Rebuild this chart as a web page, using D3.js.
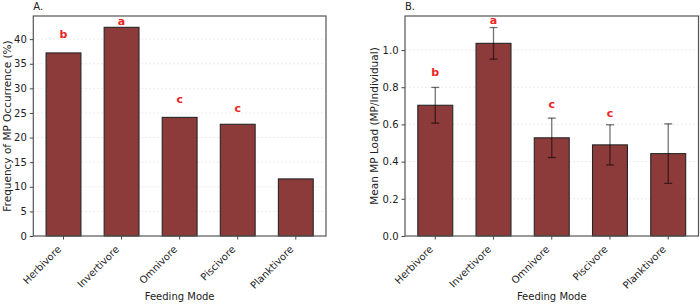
<!DOCTYPE html>
<html>
<head>
<meta charset="utf-8">
<script src="https://cdn.jsdelivr.net/npm/d3@7"></script>
<style>
  body { margin: 0; background: #fff; }
  text { font-family: "DejaVu Sans", sans-serif; fill: #222; }
</style>
</head>
<body>
<div id="chart"></div>
<script>
// data
var feedingModes = ["Herbivore", "Invertivore", "Omnivore", "Piscivore", "Planktivore"];

// panel A: frequency of MP occurrence (%)
var occurrencePct = [37.2, 42.4, 24.1, 22.7, 11.6];
var occurrenceLetters = ["b", "a", "c", "c", ""];
var occurrenceLetterY = [41.0, 43.7, 27.8, 25.9, null];
var occurrenceTicks = [0, 5, 10, 15, 20, 25, 30, 35, 40];

// panel B: mean MP load with error bars
var meanLoad = [0.703, 1.036, 0.528, 0.490, 0.443];
var loadErr = [0.096, 0.085, 0.106, 0.108, 0.160];
var loadLetters = ["b", "a", "c", "c", ""];
var loadLetterY = [0.882, 1.158, 0.708, 0.660, null];
var loadTicks = [0, 0.2, 0.4, 0.6, 0.8, 1.0];

var svg = d3.select("#chart").append("svg")
    .attr("width", 700)
    .attr("height", 306);

var barColor = "#8c3a3a";

function drawPanel(opts) {
    var g = svg.append("g");
    var x = d3.scaleBand()
        .domain(feedingModes)
        .range([opts.left, opts.right])
        .paddingInner(0.4)
        .paddingOuter(0.22);
    var y = d3.scaleLinear()
        .domain([0, opts.ymax])
        .range([opts.bottom, opts.top]);
    var cx = function(i) { return x(feedingModes[i]) + x.bandwidth() / 2; };

    // faint grid
    g.append("g").selectAll("line")
        .data(opts.ticks.filter(function(t) { return t > 0; }))
        .enter().append("line")
        .attr("x1", opts.left).attr("x2", opts.right)
        .attr("y1", function(d) { return y(d); })
        .attr("y2", function(d) { return y(d); })
        .attr("stroke", "#e6e6dc")
        .attr("stroke-dasharray", "2,2")
        .attr("stroke-width", 0.8);

    // bars
    g.append("g").selectAll("rect")
        .data(opts.values)
        .enter().append("rect")
        .attr("x", function(d, i) { return x(feedingModes[i]); })
        .attr("width", x.bandwidth())
        .attr("y", function(d) { return y(d); })
        .attr("height", function(d) { return opts.bottom - y(d); })
        .attr("fill", barColor)
        .attr("stroke", "#262626")
        .attr("stroke-width", 1.1);

    // error bars
    if (opts.errors) {
        var eb = g.append("g").selectAll("g")
            .data(opts.values)
            .enter().append("g")
            .attr("stroke", "#000")
            .attr("stroke-opacity", 0.55)
            .attr("stroke-width", 1.3);
        eb.append("line")
            .attr("x1", function(d, i) { return cx(i); })
            .attr("x2", function(d, i) { return cx(i); })
            .attr("y1", function(d, i) { return y(d - opts.errors[i]); })
            .attr("y2", function(d, i) { return y(d + opts.errors[i]); });
        [-1, 1].forEach(function(s) {
            eb.append("line")
                .attr("x1", function(d, i) { return cx(i) - 4; })
                .attr("x2", function(d, i) { return cx(i) + 4; })
                .attr("y1", function(d, i) { return y(d + s * opts.errors[i]); })
                .attr("y2", function(d, i) { return y(d + s * opts.errors[i]); });
        });
    }

    // significance letters
    var idx = d3.range(feedingModes.length).filter(function(i) { return opts.letters[i] !== ""; });
    g.append("g").selectAll("text")
        .data(idx)
        .enter().append("text")
        .attr("x", function(i) { return cx(i); })
        .attr("y", function(i) { return y(opts.letterY[i]); })
        .attr("dy", "0.35em")
        .attr("text-anchor", "middle")
        .style("fill", "#ec2424")
        .style("font-weight", "bold")
        .style("font-size", "11px")
        .text(function(i) { return opts.letters[i]; });

    // axes
    var xAxis = g.append("g")
        .attr("transform", "translate(0," + opts.bottom + ")")
        .call(d3.axisBottom(x).tickSize(3.5).tickSizeOuter(0));
    xAxis.select(".domain").remove();
    xAxis.selectAll("line").attr("stroke", "#444");
    xAxis.selectAll("text")
        .style("font-size", "10px")
        .attr("text-anchor", "end")
        .attr("x", 0).attr("y", 0).attr("dy", 0)
        .attr("transform", "translate(-1.7,14) rotate(-45)");

    var yAxis = g.append("g")
        .attr("transform", "translate(" + opts.left + ",0)")
        .call(d3.axisLeft(y).tickValues(opts.ticks).tickFormat(opts.fmt).tickSize(3.5).tickPadding(3));
    yAxis.select(".domain").remove();
    yAxis.selectAll("line").attr("stroke", "#444");
    yAxis.selectAll("text").style("font-size", "10px");

    // frame
    g.append("rect")
        .attr("x", opts.left).attr("y", opts.top)
        .attr("width", opts.right - opts.left)
        .attr("height", opts.bottom - opts.top)
        .attr("fill", "none")
        .attr("stroke", "#555")
        .attr("stroke-width", 1.2);

    // labels
    g.append("text")
        .attr("x", opts.left)
        .attr("y", 10)
        .style("font-size", "10px")
        .text(opts.title);

    g.append("text")
        .attr("x", (opts.left + opts.right) / 2)
        .attr("y", 300)
        .attr("text-anchor", "middle")
        .style("font-size", "10px")
        .text("Feeding Mode");

    g.append("text")
        .attr("transform", "rotate(-90)")
        .attr("x", -(opts.top + opts.bottom) / 2)
        .attr("y", opts.ylabelX)
        .attr("text-anchor", "middle")
        .attr("dy", "0.35em")
        .style("font-size", "10.5px")
        .text(opts.ylabel);
}

drawPanel({
    left: 33.3, right: 326, top: 16, bottom: 236,
    ymax: 44.7,
    values: occurrencePct,
    letters: occurrenceLetters,
    letterY: occurrenceLetterY,
    ticks: occurrenceTicks,
    fmt: d3.format("d"),
    title: "A.",
    ylabel: "Frequency of MP Occurrence (%)",
    ylabelX: 7
});

drawPanel({
    left: 405, right: 698.5, top: 16, bottom: 236,
    ymax: 1.183,
    values: meanLoad,
    errors: loadErr,
    letters: loadLetters,
    letterY: loadLetterY,
    ticks: loadTicks,
    fmt: d3.format(".1f"),
    title: "B.",
    ylabel: "Mean MP Load (MP/Individual)",
    ylabelX: 374
});
</script>
</body>
</html>
